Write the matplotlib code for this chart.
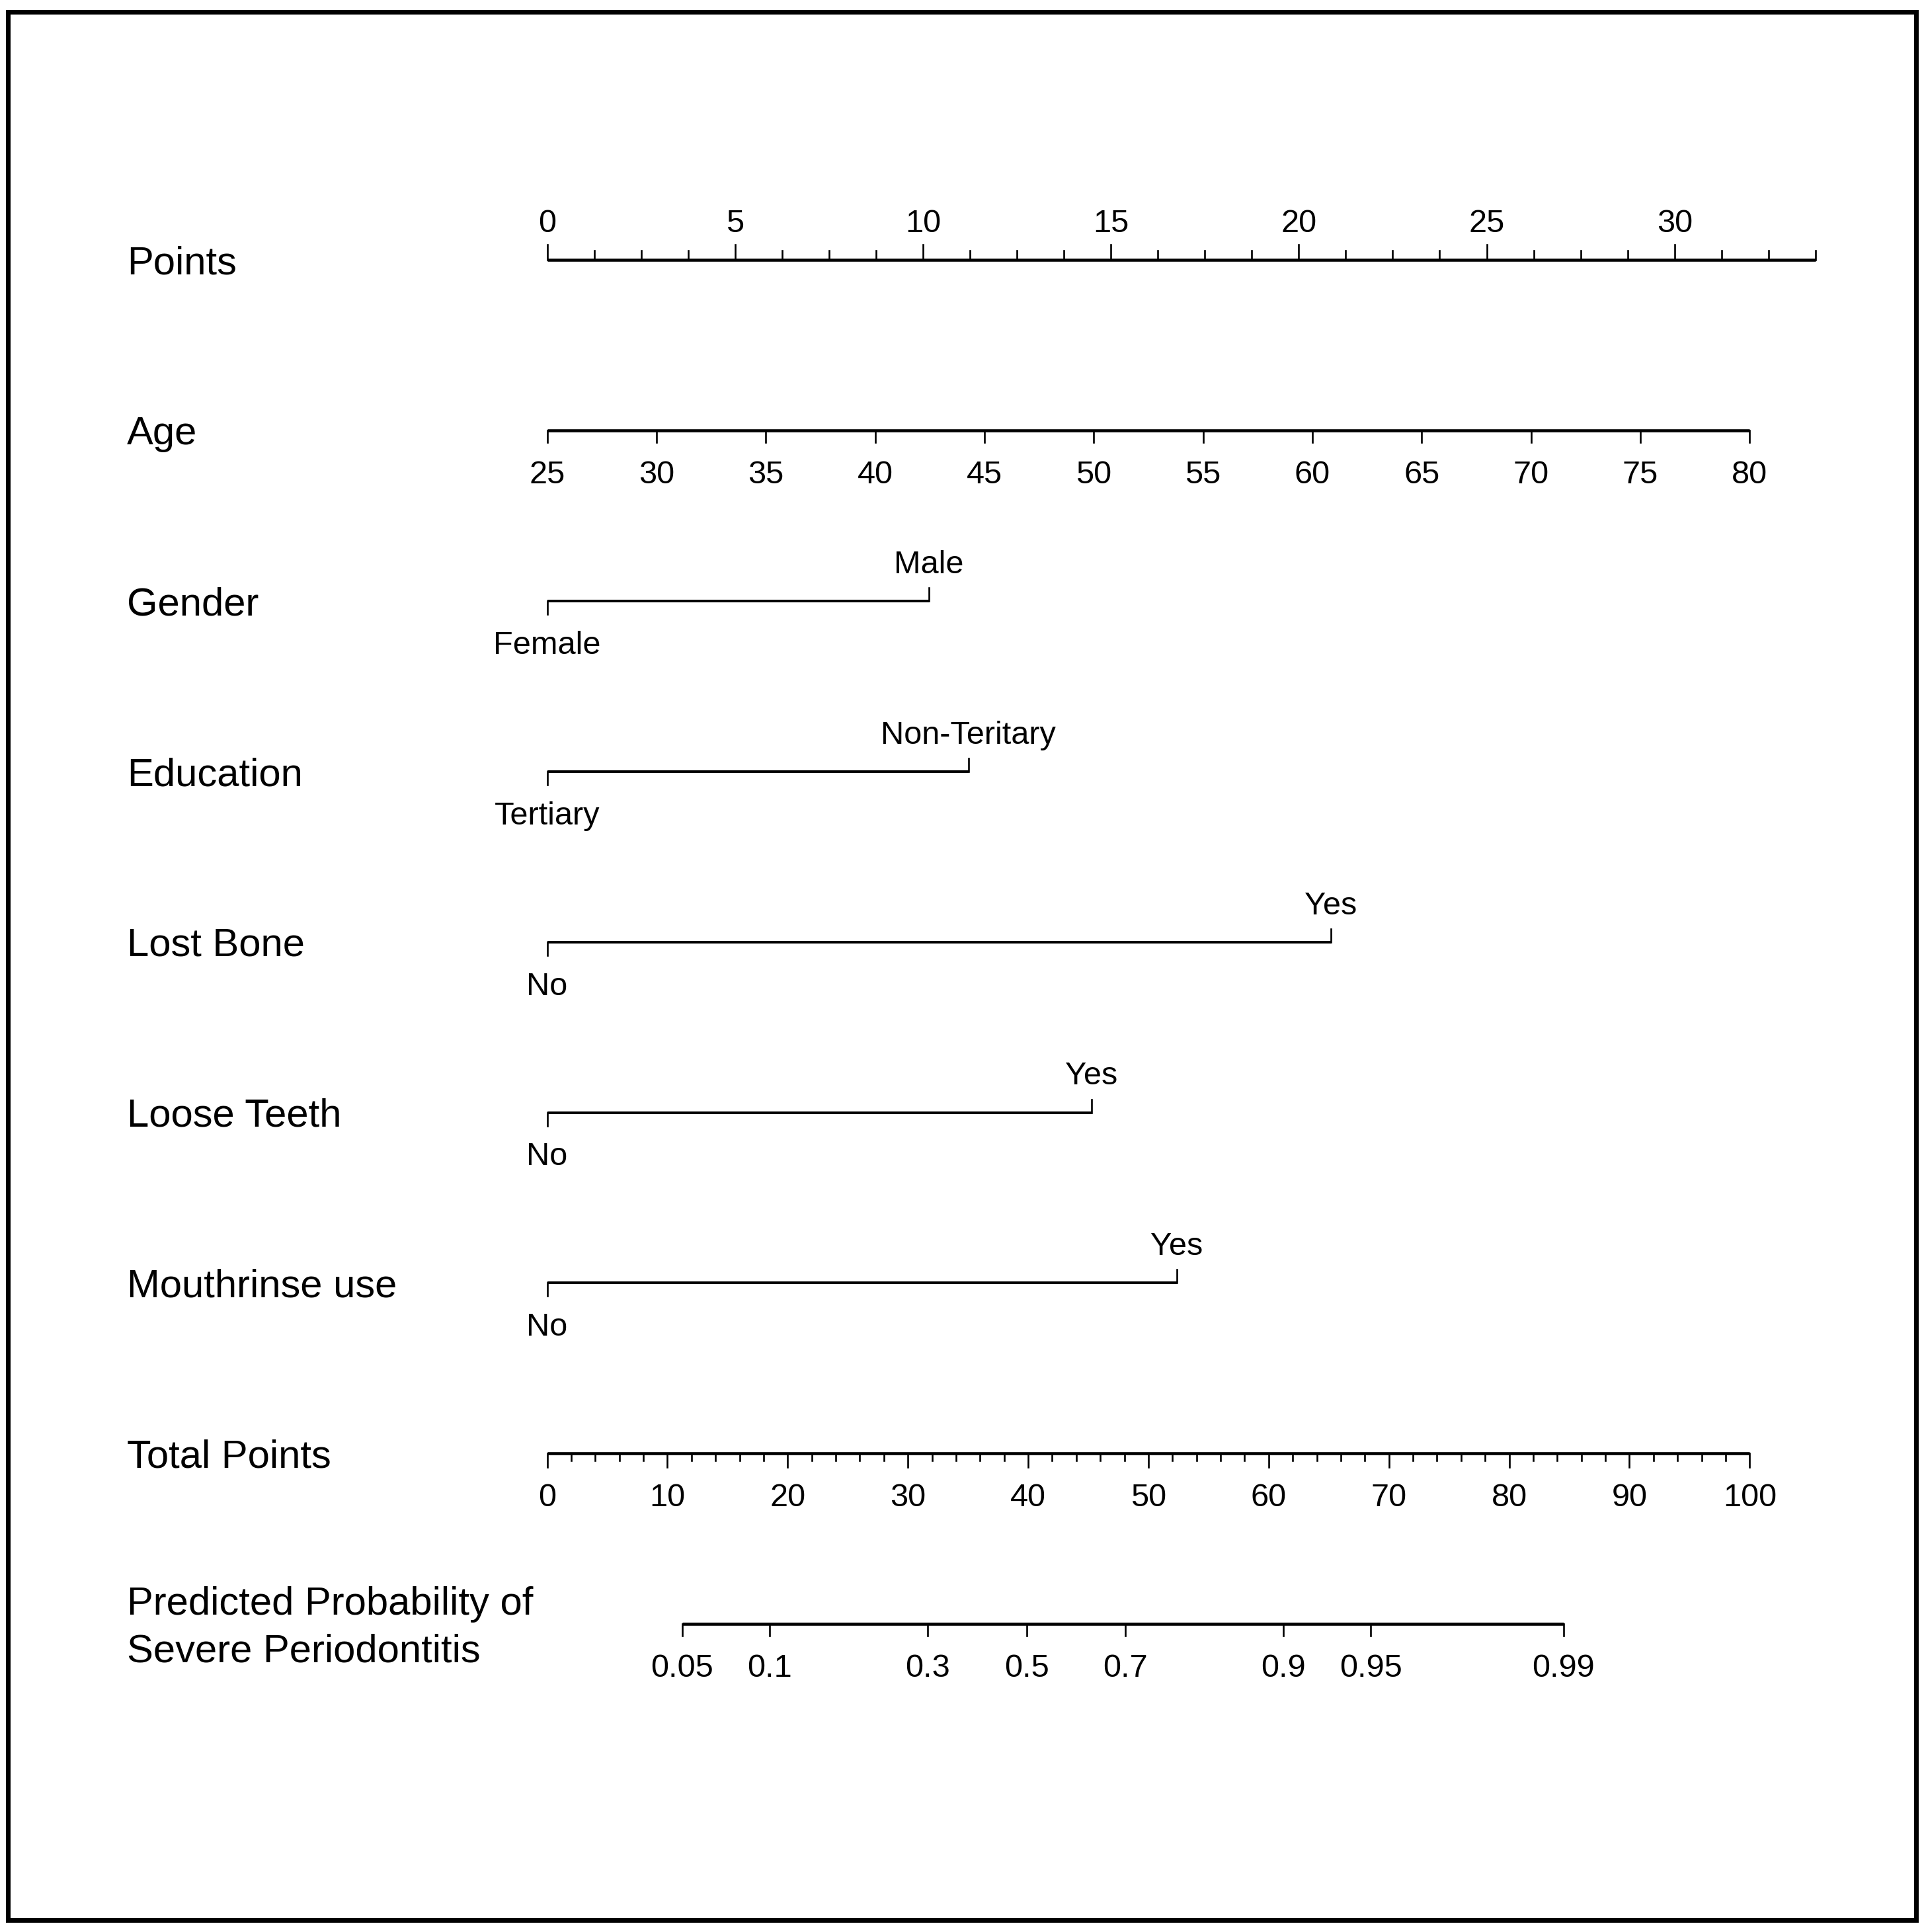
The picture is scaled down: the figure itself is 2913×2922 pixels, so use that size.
import matplotlib
matplotlib.use("Agg")
import matplotlib.pyplot as plt
import matplotlib.transforms as mtransforms
import numpy as np

plt.rcParams['font.family'] = ['Liberation Sans', 'DejaVu Sans']

# --- data ---
row_labels = ["Points", "Age", "Gender", "Education", "Lost Bone", "Loose Teeth",
              "Mouthrinse use", "Total Points",
              "Predicted Probability of\nSevere Periodontitis"]

points_labels = [0, 5, 10, 15, 20, 25, 30]
points_max = 33.75
points_step = 1.25

age_values = [25, 30, 35, 40, 45, 50, 55, 60, 65, 70, 75, 80]
age_points_max = 32.0          # points given to age 80

gender_levels = ["Female", "Male"]
gender_pts = [0, 10.16]
education_levels = ["Tertiary", "Non-Teritary"]
education_pts = [0, 11.21]
lostbone_levels = ["No", "Yes"]
lostbone_pts = [0, 20.85]
looseteeth_levels = ["No", "Yes"]
looseteeth_pts = [0, 14.49]
mouthrinse_levels = ["No", "Yes"]
mouthrinse_pts = [0, 16.75]

total_labels = [0, 10, 20, 30, 40, 50, 60, 70, 80, 90, 100]
total_step = 2
total_max = 100

prob_ticks = [0.05, 0.1, 0.3, 0.5, 0.7, 0.9, 0.95, 0.99]
prob_tick_labels = ["0.05", "0.1", "0.3", "0.5", "0.7", "0.9", "0.95", "0.99"]
lp_center = 39.86   # total points where probability = 0.5
lp_slope = 9.72     # total points per logit unit

# --- layout ---
W, H = 2913, 2922
x0_px = 827.5       # pixel x of 0 points
px_per_pt = 56.84
row0_y = 393
row_gap = 257.9
fs_lab = 43
fs_tick = 35
lw_axis = 3.3
lw_tick = 1.9

fig = plt.figure(figsize=(W / 100, H / 100), dpi=100)
ax = fig.add_axes([0, 0, 1, 1])
ax.set_xlim(-x0_px / px_per_pt, (W - x0_px) / px_per_pt)
ax.set_ylim(H, 0)
ax.axis('off')

ys = [row0_y + i * row_gap for i in range(len(row_labels))]
tot2pts = age_points_max / total_max

cap_lab = 0.716 * fs_lab * 100 / 72
below = 80
above = -42
lab_tr = mtransforms.blended_transform_factory(ax.transAxes, ax.transData)

# row labels
for lab, y in zip(row_labels, ys):
    if "\n" in lab:
        ax.text(192 / W, y + 6, lab, transform=lab_tr,
                fontsize=fs_lab, ha='left', va='center', linespacing=1.38)
    else:
        ax.text(192 / W, y + cap_lab / 2, lab, transform=lab_tr,
                fontsize=fs_lab, ha='left', va='baseline')

# Points scale
y = ys[0]
ax.plot([0, points_max], [y, y], color='black', lw=lw_axis, solid_capstyle='butt')
for t in np.arange(0, points_max + 1e-6, points_step):
    major = any(abs(t - v) < 1e-6 for v in points_labels)
    ax.plot([t, t], [y, y - (23 if major else 14)], color='black', lw=lw_tick)
for v in points_labels:
    ax.text(v, y + above, str(v), fontsize=fs_tick, ha='center', va='baseline')

# Age scale
y = ys[1]
age_pts = [(a - age_values[0]) / (age_values[-1] - age_values[0]) * age_points_max for a in age_values]
ax.plot([age_pts[0], age_pts[-1]], [y, y], color='black', lw=lw_axis, solid_capstyle='butt')
for a, p in zip(age_values, age_pts):
    ax.plot([p, p], [y, y + 18], color='black', lw=lw_tick)
    ax.text(p, y + below, str(a), fontsize=fs_tick, ha='center', va='baseline')

# binary variables
cats = [(gender_levels, gender_pts), (education_levels, education_pts),
        (lostbone_levels, lostbone_pts), (looseteeth_levels, looseteeth_pts),
        (mouthrinse_levels, mouthrinse_pts)]
for (levels, pts), y in zip(cats, ys[2:7]):
    ax.plot([pts[0], pts[1]], [y, y], color='black', lw=lw_axis * 0.85, solid_capstyle='butt')
    ax.plot([pts[0], pts[0]], [y, y + 20], color='black', lw=lw_tick)
    ax.plot([pts[1], pts[1]], [y, y - 20], color='black', lw=lw_tick)
    ax.text(pts[0], y + below, levels[0], fontsize=fs_tick, ha='center', va='baseline')
    ax.text(pts[1], y + above, levels[1], fontsize=fs_tick, ha='center', va='baseline')

# Total points
y = ys[7]
ax.plot([0, total_max * tot2pts], [y, y], color='black', lw=lw_axis, solid_capstyle='butt')
for t in np.arange(0, total_max + 1e-6, total_step):
    major = t in total_labels
    ax.plot([t * tot2pts] * 2, [y, y + (21 if major else 11)], color='black', lw=lw_tick)
for v in total_labels:
    ax.text(v * tot2pts, y + below, str(v), fontsize=fs_tick, ha='center', va='baseline')

# Predicted probability
y = ys[8]
logit = np.log(np.array(prob_ticks) / (1 - np.array(prob_ticks)))
prob_pos = (lp_center + lp_slope * logit) * tot2pts
ax.plot([prob_pos[0], prob_pos[-1]], [y, y], color='black', lw=lw_axis, solid_capstyle='butt')
for p, lab in zip(prob_pos, prob_tick_labels):
    ax.plot([p, p], [y, y + 18], color='black', lw=lw_tick)
    ax.text(p, y + below, lab, fontsize=fs_tick, ha='center', va='baseline')

# outer frame
frame = plt.Rectangle((12 / W, 18 / H), (2898 - 12) / W, (2904 - 18) / H,
                      transform=fig.transFigure, fill=False, edgecolor='black', lw=5)
fig.patches.append(frame)

fig.savefig("out.png", dpi=100, facecolor='white')
